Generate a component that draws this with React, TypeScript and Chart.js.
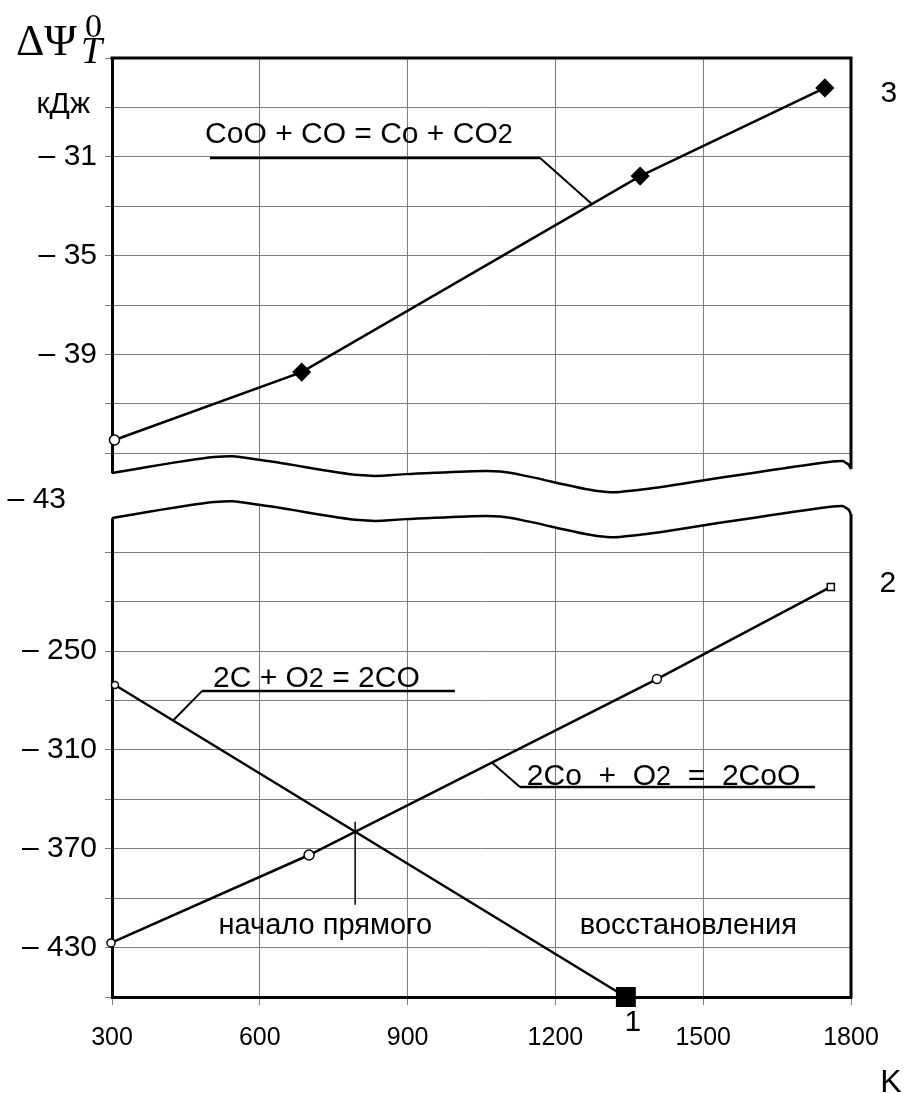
import React, { useEffect, useRef } from 'react';
import { Chart, registerables } from 'chart.js';

Chart.register(...registerables);

// ---------------- data ----------------
const xTickValues = [300, 600, 900, 1200, 1500, 1800];

// CoO + CO = Co + CO2 (upper panel, kJ)
const tempCoO = [305, 685, 1372, 1747];
const psiCoO = [-42.46, -39.71, -31.78, -28.21];

// 2Co + O2 = 2CoO (lower panel, kJ)
const temp2Co = [298, 700, 1406, 1759];
const psi2Co = [-427.2, -373.8, -267.0, -211.1];

// 2C + O2 = 2CO (lower panel, kJ)
const temp2C = [306, 1343];
const psi2C = [-270.6, -460.0];

const upperTickLabels = [-31, -35, -39];
const lowerTickLabels = [-430, -370, -310, -250];

const eqCoO = ['CoO + CO = Co + CO', '2'];
const eq2C = ['2C + O', '2', ' = 2CO'];
const eq2Co = ['2Co  +  O', '2', '  =  2CoO'];
const unitText = 'кДж';
const breakLabel = '– 43';
const startText = 'начало прямого';
const reductionText = 'восстановления';
const xUnit = 'K';

// ---------------- layout / style ----------------
const SANS = '"Liberation Sans", Arial, Helvetica, sans-serif';
const SERIF = '"Liberation Serif", "Times New Roman", serif';
const GRID = '#7d7d7d';
const NONE = 'rgba(0,0,0,0)';

// wavy break (T, upper-scale value), lower wave is offset by BREAK_GAP px
const waveT = [300, 507, 602, 801, 897, 1061, 1132, 1285, 1368, 1544, 1755, 1790, 1800];
const waveV = [-43.8, -43.15, -43.27, -43.88, -43.84, -43.71, -43.88, -44.52, -44.48, -43.96, -43.35, -43.39, -43.63];
const BREAK_GAP = 45;

const noteCoO = { t: 489, v: -30.44, t0: 499, t1: 1169, lv: -31.05, leaderT: 1274 };
const note2C = { t: 505, v: -271.8, t0: 483, t1: 996, lv: -274.2, leaderT: 424 };
const note2Co = { t: 1142, v: -331.3, t0: 1128, t1: 1727, lv: -332.5, leaderT: 1071 };

function interp(ts: number[], vs: number[], t: number) {
  for (let i = 0; i < ts.length - 1; i++) {
    if (t >= ts[i] && t <= ts[i + 1]) {
      const f = (t - ts[i]) / (ts[i + 1] - ts[i]);
      return vs[i] + f * (vs[i + 1] - vs[i]);
    }
  }
  return vs[vs.length - 1];
}

function intersect(ta: number[], va: number[], tb: number[], vb: number[]) {
  for (let i = 0; i < ta.length - 1; i++) {
    for (let j = 0; j < tb.length - 1; j++) {
      const b1 = (va[i + 1] - va[i]) / (ta[i + 1] - ta[i]);
      const b2 = (vb[j + 1] - vb[j]) / (tb[j + 1] - tb[j]);
      if (b1 === b2) continue;
      const a1 = va[i] - b1 * ta[i];
      const a2 = vb[j] - b2 * tb[j];
      const t = (a2 - a1) / (b1 - b2);
      if (t >= ta[i] && t <= ta[i + 1] && t >= tb[j] && t <= tb[j + 1]) {
        return { t, v: a1 + b1 * t };
      }
    }
  }
  return null;
}

function traceSpline(ctx: CanvasRenderingContext2D, pts: number[][]) {
  for (let i = 0; i < pts.length - 1; i++) {
    const p0 = pts[i - 1] || pts[i];
    const p1 = pts[i];
    const p2 = pts[i + 1];
    const p3 = pts[i + 2] || p2;
    ctx.bezierCurveTo(
      p1[0] + (p2[0] - p0[0]) / 6,
      p1[1] + (p2[1] - p0[1]) / 6,
      p2[0] - (p3[0] - p1[0]) / 6,
      p2[1] - (p3[1] - p1[1]) / 6,
      p2[0],
      p2[1]
    );
  }
}

function drawParts(ctx: CanvasRenderingContext2D, parts: string[], x: number, y: number, size: number, small: number) {
  let cx = x;
  parts.forEach((p, i) => {
    ctx.font = `${i % 2 === 1 ? small : size}px ${SANS}`;
    ctx.fillText(p, cx, y);
    cx += ctx.measureText(p).width;
  });
}

const decorPlugin = {
  id: 'decor',
  afterDraw(chart: any) {
    const { ctx, chartArea: a, scales } = chart;
    const x = scales.x;
    const yT = scales.yTop;
    const yB = scales.yBot;
    ctx.save();

    // top and right frame
    ctx.strokeStyle = '#000';
    ctx.lineWidth = 3;
    ctx.lineJoin = 'miter';
    ctx.beginPath();
    ctx.moveTo(a.left - 1.5, a.top);
    ctx.lineTo(a.right, a.top);
    ctx.lineTo(a.right, a.bottom + 1.5);
    ctx.stroke();

    // axis break
    const up = waveT.map((t, i) => [x.getPixelForValue(t), yT.getPixelForValue(waveV[i])]);
    const lo = up.map((p) => [p[0], p[1] + BREAK_GAP]);
    const loRev = lo.slice().reverse();
    ctx.fillStyle = '#fff';
    ctx.beginPath();
    ctx.moveTo(up[0][0] - 9, up[0][1]);
    ctx.lineTo(up[0][0], up[0][1]);
    traceSpline(ctx, up);
    const last = up[up.length - 1];
    ctx.lineTo(last[0] + 9, last[1]);
    ctx.lineTo(last[0] + 9, last[1] + BREAK_GAP);
    ctx.lineTo(last[0], last[1] + BREAK_GAP);
    traceSpline(ctx, loRev);
    ctx.lineTo(lo[0][0] - 9, lo[0][1]);
    ctx.closePath();
    ctx.fill();

    ctx.strokeStyle = '#000';
    ctx.lineWidth = 2.5;
    ctx.lineJoin = 'round';
    ctx.lineCap = 'butt';
    [up, lo].forEach((pts) => {
      ctx.beginPath();
      ctx.moveTo(pts[0][0], pts[0][1]);
      traceSpline(ctx, pts);
      ctx.stroke();
    });

    // lower-scale tick labels (same geometry as the native upper ones)
    const tickLen = yB.options.grid.tickLength;
    const tickPad = 8;
    ctx.fillStyle = '#000';
    ctx.textAlign = 'right';
    ctx.textBaseline = 'middle';
    ctx.font = `30px ${SANS}`;
    lowerTickLabels.forEach((v) => {
      ctx.fillText('– ' + Math.abs(v), a.left - tickLen - tickPad, yB.getPixelForValue(v));
    });

    // start-of-reduction marker
    const cross = intersect(temp2C, psi2C, temp2Co, psi2Co);
    if (cross) {
      const px = x.getPixelForValue(cross.t);
      ctx.lineWidth = 1.5;
      ctx.beginPath();
      ctx.moveTo(px, yB.getPixelForValue(cross.v) - 10);
      ctx.lineTo(px, yB.getPixelForValue(-404));
      ctx.stroke();
    }

    // equation callouts
    ctx.textAlign = 'left';
    ctx.textBaseline = 'alphabetic';
    const callout = (note: any, parts: string[], scale: any, ts: number[], vs: number[], fromEnd: boolean) => {
      drawParts(ctx, parts, x.getPixelForValue(note.t), scale.getPixelForValue(note.v), 30, 27);
      const ly = scale.getPixelForValue(note.lv);
      const x0 = x.getPixelForValue(note.t0);
      const x1 = x.getPixelForValue(note.t1);
      ctx.lineWidth = 2.5;
      ctx.beginPath();
      ctx.moveTo(x0, ly);
      ctx.lineTo(x1, ly);
      ctx.stroke();
      ctx.lineWidth = 2;
      ctx.beginPath();
      ctx.moveTo(fromEnd ? x1 : x0, ly);
      ctx.lineTo(x.getPixelForValue(note.leaderT), scale.getPixelForValue(interp(ts, vs, note.leaderT)));
      ctx.stroke();
    };
    callout(noteCoO, eqCoO, yT, tempCoO, psiCoO, true);
    callout(note2C, eq2C, yB, temp2C, psi2C, false);
    callout(note2Co, eq2Co, yB, temp2Co, psi2Co, false);

    // other texts
    ctx.textAlign = 'center';
    ctx.font = `29px ${SANS}`;
    ctx.fillText(startText, x.getPixelForValue(733), yB.getPixelForValue(-421.8));
    ctx.fillText(reductionText, x.getPixelForValue(1470), yB.getPixelForValue(-421.8));
    ctx.font = `30px ${SANS}`;
    ctx.fillText('3', x.getPixelForValue(1877), yT.getPixelForValue(-28.78));
    ctx.fillText('2', x.getPixelForValue(1875), yB.getPixelForValue(-214.15));
    ctx.fillText('1', x.getPixelForValue(1357), yB.getPixelForValue(-480.6));
    ctx.font = `32px ${SANS}`;
    ctx.fillText(xUnit, x.getPixelForValue(1881), yB.getPixelForValue(-517.7));

    ctx.textAlign = 'right';
    ctx.font = `30px ${SANS}`;
    ctx.fillText(unitText, 90, 113);
    ctx.fillText(breakLabel, 66, 508);

    // axis symbol ΔΨ_T^0
    ctx.textAlign = 'left';
    ctx.font = `44px ${SERIF}`;
    ctx.fillText('ΔΨ', 16, 55);
    ctx.font = `italic 38px ${SERIF}`;
    ctx.fillText('T', 81, 63);
    ctx.font = `34px ${SERIF}`;
    ctx.fillText('0', 85, 37);

    ctx.restore();
  },
};

export default function App() {
  const ref = useRef<HTMLCanvasElement>(null);

  useEffect(() => {
    const canvas = ref.current;
    if (!canvas) return;
    const pts = (ts: number[], vs: number[]) => ts.map((t, i) => ({ x: t, y: vs[i] }));
    const chart = new Chart(canvas, {
      type: 'line',
      data: {
        datasets: [
          {
            label: 'CoO + CO = Co + CO2',
            data: pts(tempCoO, psiCoO),
            xAxisID: 'x',
            yAxisID: 'yTop',
            borderColor: '#000',
            borderWidth: 2.5,
            tension: 0,
            fill: false,
            pointStyle: ['circle', 'rectRot', 'rectRot', 'rectRot'],
            pointRadius: [5, 8.5, 8.5, 8.5],
            pointBackgroundColor: ['#fff', '#000', '#000', '#000'],
            pointBorderColor: '#000',
            pointBorderWidth: 1.5,
            clip: false,
          } as any,
          {
            label: '2Co + O2 = 2CoO',
            data: pts(temp2Co, psi2Co),
            xAxisID: 'x',
            yAxisID: 'yBot',
            borderColor: '#000',
            borderWidth: 2.5,
            tension: 0,
            fill: false,
            pointStyle: ['circle', 'circle', 'circle', 'rect'],
            pointRadius: [4, 5, 4.5, 5],
            pointBackgroundColor: '#fff',
            pointBorderColor: '#000',
            pointBorderWidth: 1.5,
            clip: false,
          } as any,
          {
            label: '2C + O2 = 2CO',
            data: pts(temp2C, psi2C),
            xAxisID: 'x',
            yAxisID: 'yBot',
            borderColor: '#000',
            borderWidth: 2.5,
            tension: 0,
            fill: false,
            pointStyle: ['circle', 'rect'],
            pointRadius: [3.5, 13],
            pointBackgroundColor: ['#fff', '#000'],
            pointBorderColor: '#000',
            pointBorderWidth: 1.5,
            clip: false,
          } as any,
        ],
      },
      options: {
        animation: false,
        responsive: false,
        devicePixelRatio: 1,
        events: [],
        layout: { padding: { left: 0, top: 58, right: 58, bottom: 0 } },
        plugins: { legend: { display: false }, tooltip: { enabled: false } },
        scales: {
          x: {
            type: 'linear',
            position: 'bottom',
            min: xTickValues[0],
            max: xTickValues[xTickValues.length - 1],
            afterBuildTicks: (s: any) => {
              s.ticks = xTickValues.map((v) => ({ value: v }));
            },
            ticks: {
              stepSize: 300,
              autoSkip: false,
              maxRotation: 0,
              color: '#000',
              padding: 18,
              font: { family: SANS, size: 25 },
              callback: (v: any) => String(Math.round(v)),
            },
            grid: {
              color: (c: any) =>
                c.tick && (c.tick.value === xTickValues[0] || c.tick.value === xTickValues[xTickValues.length - 1]) ? NONE : GRID,
              tickColor: GRID,
              lineWidth: 1,
              tickLength: 8,
            },
            border: { color: '#000', width: 3 },
            afterFit: (s: any) => {
              s.height = 96;
            },
          },
          yTop: {
            type: 'linear',
            position: 'left',
            weight: 2,
            min: -65,
            max: -27,
            ticks: {
              stepSize: 2,
              autoSkip: false,
              color: '#000',
              padding: 8,
              font: { family: SANS, size: 30 },
              callback: (v: any) => (upperTickLabels.includes(Math.round(v)) ? '– ' + Math.abs(Math.round(v)) : ''),
            },
            grid: {
              color: (c: any) => (c.tick && c.tick.value >= -43.5 && c.tick.value < -27.5 ? GRID : NONE),
              tickColor: (c: any) => (c.tick && c.tick.value >= -43.5 ? GRID : NONE),
              lineWidth: 1,
              tickLength: 7,
            },
            border: { color: '#000', width: 3 },
            afterFit: (s: any) => {
              s.width = 112;
            },
          },
          yBot: {
            type: 'linear',
            position: 'left',
            weight: 1,
            min: -460,
            max: 110,
            ticks: {
              stepSize: 30,
              autoSkip: false,
              display: false,
            },
            grid: {
              color: (c: any) => (c.tick && c.tick.value <= -175 && c.tick.value > -459 ? GRID : NONE),
              tickColor: (c: any) => (c.tick && c.tick.value <= -175 ? GRID : NONE),
              lineWidth: 1,
              tickLength: 7,
            },
            border: { display: false },
            afterFit: (s: any) => {
              s.width = 0;
            },
          },
        },
      } as any,
      plugins: [decorPlugin],
    });
    return () => chart.destroy();
  }, []);

  return (
    <div style={{ position: 'absolute', left: 0, top: 0, width: 909, height: 1093, background: '#fff' }}>
      <canvas ref={ref} width={909} height={1093} style={{ display: 'block', width: 909, height: 1093 }} />
    </div>
  );
}
